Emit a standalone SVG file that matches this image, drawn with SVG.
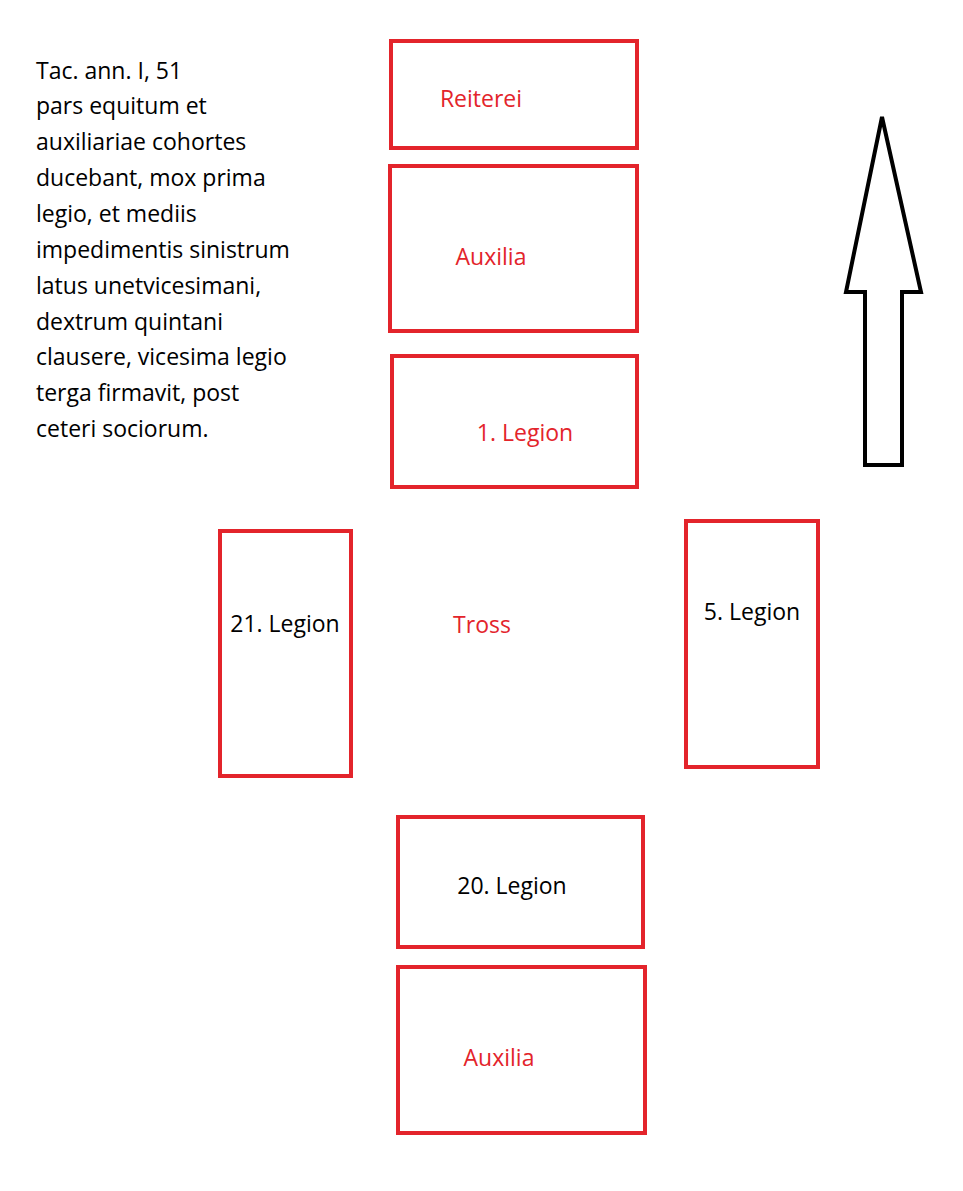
<svg xmlns="http://www.w3.org/2000/svg" width="963" height="1191" viewBox="0 0 963 1191">
<style>
.b{fill:none;stroke:#e3242b;stroke-width:4}
text{font-family:"Open Sans","Liberation Sans",sans-serif;font-size:23px}
.r{fill:#e3242b;text-anchor:middle}
.k{fill:#000;text-anchor:middle}
</style>
<rect width="963" height="1191" fill="#fff"/>
<g id="note"><text x="36" y="0" fill="#000">
<tspan x="36" y="79">Tac. ann. I, 51</tspan>
<tspan x="36" y="114">pars equitum et</tspan>
<tspan x="36" y="150">auxiliariae cohortes</tspan>
<tspan x="36" y="186">ducebant, mox prima</tspan>
<tspan x="36" y="222">legio, et mediis</tspan>
<tspan x="36" y="258">impedimentis sinistrum</tspan>
<tspan x="36" y="294">latus unetvicesimani,</tspan>
<tspan x="36" y="330">dextrum quintani</tspan>
<tspan x="36" y="365">clausere, vicesima legio</tspan>
<tspan x="36" y="401">terga firmavit, post</tspan>
<tspan x="36" y="437">ceteri sociorum.</tspan>
</text></g>
<g id="reiterei"><rect class="b" x="391" y="41" width="246" height="107"/><text class="r" x="481" y="107">Reiterei</text></g>
<g id="auxilia1"><rect class="b" x="390" y="166" width="247" height="165"/><text class="r" x="491" y="265">Auxilia</text></g>
<g id="legion1"><rect class="b" x="392" y="356" width="245" height="131"/><text class="r" x="525" y="441">1. Legion</text></g>
<g id="legion21"><rect class="b" x="220" y="531" width="131" height="245"/><text class="k" x="285" y="632">21. Legion</text></g>
<g id="tross"><text class="r" x="482" y="633">Tross</text></g>
<g id="legion5"><rect class="b" x="686" y="521" width="132" height="246"/><text class="k" x="752" y="620">5. Legion</text></g>
<g id="legion20"><rect class="b" x="398" y="817" width="245" height="130"/><text class="k" x="512" y="894">20. Legion</text></g>
<g id="auxilia2"><rect class="b" x="398" y="967" width="247" height="166"/><text class="r" x="499" y="1066">Auxilia</text></g>
<g id="arrow"><polygon points="882,117 846,292 865,292 865,465 902,465 902,292 921,292" fill="#fff" stroke="#000" stroke-width="4"/></g>
<g id="connectors"></g>
</svg>
